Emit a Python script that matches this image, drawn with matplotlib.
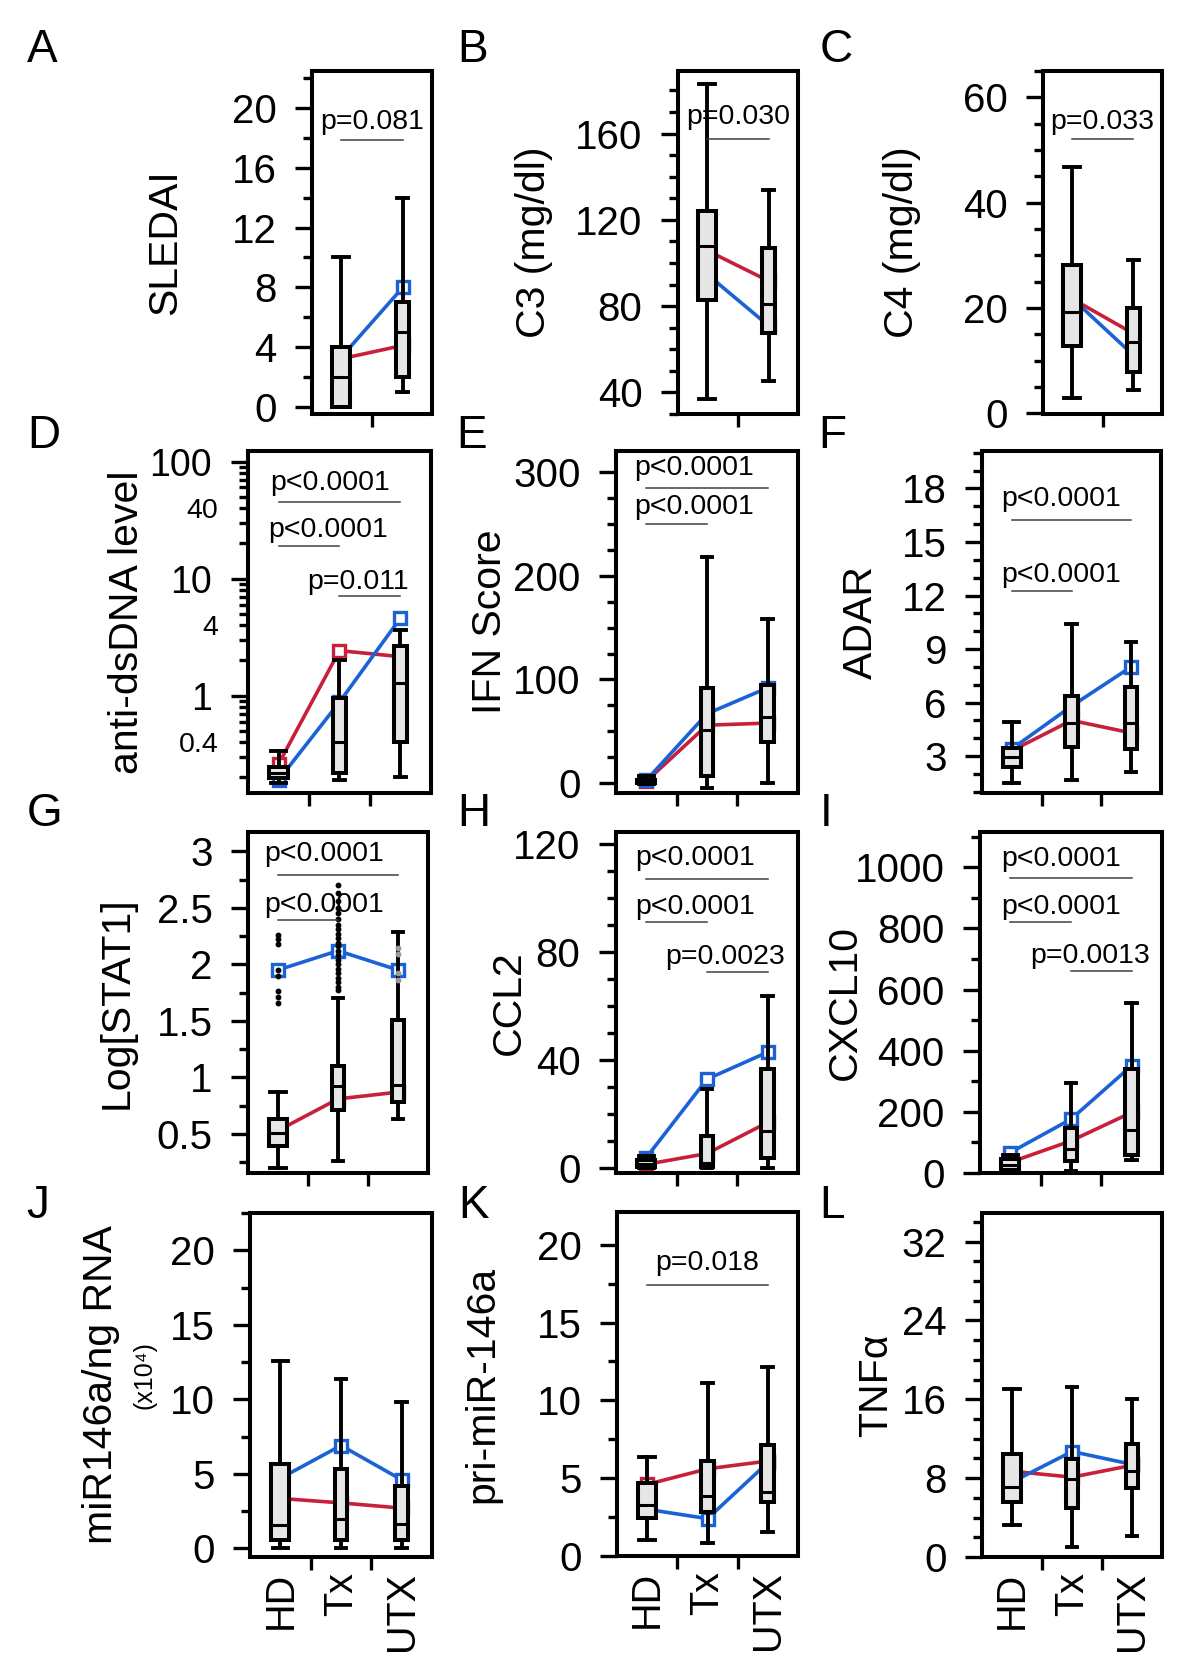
import matplotlib.pyplot as plt
from matplotlib.ticker import MultipleLocator, FixedLocator, FuncFormatter

plt.rcParams['font.family'] = ['Liberation Sans', 'DejaVu Sans']

W, H = 1200, 1670
RED, BLUE = '#c8203a', '#1a62d6'
BOX_FILL = '#e6e6e6'

# ── Data ───────────────────────────────────────────────────────────────────────
GROUPS = ['HD', 'Tx', 'UTX']

# box stats per group: whisker low, q1, median, q3, whisker high
sledai_box = [[0, 0, 2, 4, 10], [1, 2, 5, 7, 14]]
sledai_red = [3.2, 4.1]
sledai_blue = [3.3, 8.0]

c3_box = [[37, 83, 108, 124, 183], [45.5, 67.4, 81, 106.8, 134]]
c3_red = [105.8, 91.6]
c3_blue = [94.8, 70.8]

c4_box = [[3.0, 12.8, 19.2, 28.1, 46.8], [4.4, 7.9, 13.6, 20.1, 29.1]]
c4_red = [21.8, 15.2]
c4_blue = [21.9, 11.1]

dsdna_box = [[0.178, 0.197, 0.217, 0.243, 0.337],
             [0.19, 0.22, 0.40, 0.95, 2.02],
             [0.20, 0.40, 1.29, 2.66, 3.6]]
dsdna_red = [0.26, 2.42, 2.15]
dsdna_blue = [0.19, 0.88, 4.6]

ifn_box = [[-1, 0, 1, 3, 7], [-4.8, 7, 51, 92, 218], [0, 39.5, 64, 94.6, 158]]
ifn_red = [2, 56, 58]
ifn_blue = [3, 67, 92]

adar_box = [[1.5, 2.4, 2.93, 3.47, 4.89], [1.66, 3.52, 4.83, 6.38, 10.43],
            [2.09, 3.39, 4.83, 6.85, 9.37]]
adar_red = [3.3, 5.0, 4.3]
adar_blue = [3.4, 5.8, 8.0]

stat1_box = [[0.195, 0.396, 0.506, 0.63, 0.87], [0.26, 0.71, 0.92, 1.10, 1.70],
             [0.63, 0.78, 0.93, 1.51, 2.29]]
stat1_red = [0.53, 0.81, 0.87]
stat1_blue = [1.95, 2.12, 1.95]
stat1_out_hd = [2.26, 2.22, 2.18, 1.95, 1.90, 1.76, 1.71, 1.66]
stat1_out_tx = [2.70, 2.63, 2.56, 2.50, 2.45, 2.40, 2.35, 2.31, 2.27, 2.23, 2.19,
                2.16, 2.12, 2.08, 2.04, 2.00, 1.96, 1.92, 1.88, 1.84, 1.80, 1.77]
stat1_out_utx = [2.14, 2.09, 1.92, 1.86]

ccl2_box = [[0, 0.5, 1.5, 3, 4.5], [0, 0.6, 1.85, 12, 29.3], [0, 3.9, 13.9, 36.7, 63.6]]
ccl2_red = [1.5, 5.5, 17]
ccl2_blue = [4, 33, 43]

cxcl10_box = [[0, 10, 25, 45, 58], [7, 39, 80, 146, 294], [41, 58, 141, 340, 556]]
cxcl10_red = [35, 105, 198]
cxcl10_blue = [67, 176, 351]

mir_box = [[0, 0.56, 1.6, 5.65, 12.6], [0, 0.56, 1.96, 5.3, 11.35], [0, 0.56, 1.63, 4.2, 9.79]]
mir_red = [3.35, 3.05, 2.7]
mir_blue = [4.7, 6.9, 4.6]

pri_box = [[1.03, 2.47, 3.27, 4.66, 6.39], [0.86, 2.8, 3.87, 6.13, 11.1],
           [1.57, 3.44, 4.08, 7.14, 12.15]]
pri_red = [4.6, 5.6, 6.1]
pri_blue = [3.0, 2.4, 6.0]

tnf_box = [[3.26, 5.63, 7.06, 10.5, 17.0], [1.05, 5.0, 7.9, 9.9, 17.2],
           [2.14, 6.96, 8.7, 11.5, 16.0]]
tnf_red = [8.7, 8.1, 9.3]
tnf_blue = [7.6, 10.7, 9.4]

# p-value labels: (text, from group, to group)
sledai_p = [('p=0.081', 1, 2)]
c3_p = [('p=0.030', 1, 2)]
c4_p = [('p=0.033', 1, 2)]
dsdna_p = [('p<0.0001', 1, 3), ('p<0.0001', 1, 2), ('p=0.011', 2, 3)]
ifn_p = [('p<0.0001', 1, 3), ('p<0.0001', 1, 2)]
adar_p = [('p<0.0001', 1, 3), ('p<0.0001', 1, 2)]
stat1_p = [('p<0.0001', 1, 3), ('p<0.0001', 1, 2)]
ccl2_p = [('p<0.0001', 1, 3), ('p<0.0001', 1, 2), ('p=0.0023', 2, 3)]
cxcl10_p = [('p<0.0001', 1, 3), ('p<0.0001', 1, 2), ('p=0.0013', 2, 3)]
pri_p = [('p=0.018', 1, 3)]

# ── Layout (pixels of the 1200x1670 figure) ───────────────────────────────────
PANELS = [
    dict(letter='A', lpos=(42, 62), rect=(312, 71, 432, 414), ylim=(-0.5, 22.5), major=4, minor=2,
         ylabel='SLEDAI', labx=165, box=sledai_box, red=sledai_red, blue=sledai_blue,
         p=sledai_p, pbar=[17.9], ptx=[1.5], pdy=[12.7]),
    dict(letter='B', lpos=(473, 62), rect=(678, 71, 798, 414), ylim=(30, 189), major=40, minor=10,
         ylabel='C3 (mg/dl)', labx=534, box=c3_box, red=c3_red, blue=c3_blue,
         p=c3_p, pbar=[157.7], ptx=[1.5], pdy=[15.8]),
    dict(letter='C', lpos=(836, 62), rect=(1043, 71, 1162, 414), ylim=(-0.1, 65), major=20, minor=5,
         ylabel='C4 (mg/dl)', labx=902, box=c4_box, red=c4_red, blue=c4_blue,
         p=c4_p, pbar=[52], ptx=[1.5], pdy=[12.7]),
    dict(letter='D', lpos=(44, 448), rect=(248, 451, 431, 793), ylim=(0.147, 123), log=True,
         ylabel='anti-dsDNA level', labx=127, box=dsdna_box, red=dsdna_red, blue=dsdna_blue,
         p=dsdna_p, pbar=[45.5, 19.1, 7.16], ptx=[1.84, 1.81, 2.30], pdy=[13.2, 11.3, 10]),
    dict(letter='E', lpos=(472, 448), rect=(616, 451, 798, 793), ylim=(-9.3, 320), major=100, minor=25,
         ylabel='IFN Score', labx=490, box=ifn_box, red=ifn_red, blue=ifn_blue,
         p=ifn_p, pbar=[284, 249.6], ptx=[1.79, 1.79], pdy=[14.4, 12]),
    dict(letter='F', lpos=(832, 448), rect=(982, 451, 1161, 793), ylim=(0.93, 20.1), major=3, minor=1,
         ylabel='ADAR', labx=861, box=adar_box, red=adar_red, blue=adar_blue,
         p=adar_p, pbar=[16.26, 12.26], ptx=[1.82, 1.82], pdy=[15.1, 11.3]),
    dict(letter='G', lpos=(45, 826), rect=(248, 832, 428, 1173), ylim=(0.155, 3.17), major=0.5, minor=0.25,
         ylabel='Log[STAT1]', labx=117, box=stat1_box, red=stat1_red, blue=stat1_blue,
         p=stat1_p, pbar=[2.79, 2.395], ptx=[1.76, 1.76], pdy=[14.9, 10.8],
         fliers=[stat1_out_hd, stat1_out_tx, stat1_out_utx]),
    dict(letter='H', lpos=(474, 826), rect=(616, 832, 798, 1173), ylim=(-1.7, 124.4), major=40, minor=10,
         ylabel='CCL2', labx=509, box=ccl2_box, red=ccl2_red, blue=ccl2_blue,
         p=ccl2_p, pbar=[107.1, 91, 72.6], ptx=[1.8, 1.8, 2.3], pdy=[14.9, 11.1, 11.2]),
    dict(letter='I', lpos=(826, 826), rect=(980, 832, 1162, 1173), ylim=(0, 1115), major=200, minor=100,
         ylabel='CXCL10', labx=845, box=cxcl10_box, red=cxcl10_red, blue=cxcl10_blue,
         p=cxcl10_p, pbar=[966, 821, 660], ptx=[1.84, 1.84, 2.31], pdy=[13.7, 10.8, 10.8]),
    dict(letter='J', lpos=(38, 1218), rect=(250, 1213, 432, 1557), ylim=(-0.58, 22.5), major=5, minor=2.5,
         ylabel='miR146a/ng RNA', labx=101, sub='(x10⁴)', subx=144, box=mir_box, red=mir_red,
         blue=mir_blue, p=[], pbar=[], ptx=[], pdy=[], bottom=True),
    dict(letter='K', lpos=(474, 1218), rect=(617, 1212, 798, 1556), ylim=(0, 22.1), major=5, minor=2.5,
         ylabel='pri-miR-146a', labx=482, box=pri_box, red=pri_red, blue=pri_blue,
         p=pri_p, pbar=[17.4], ptx=[2.0], pdy=[15.6], bottom=True),
    dict(letter='L', lpos=(832, 1218), rect=(982, 1213, 1162, 1557), ylim=(0, 34.9), major=8, minor=2,
         ylabel='TNFα', labx=876, box=tnf_box, red=tnf_red, blue=tnf_blue,
         p=[], pbar=[], ptx=[], pdy=[], bottom=True),
]


def fx(x):
    return x / W


def fy(y):
    return 1 - y / H


def draw_panel(fig, cfg):
    l, t, r, b = cfg['rect']
    ax = fig.add_axes([fx(l), fy(b), (r - l) / W, (b - t) / H])
    n = len(cfg['box'])
    pos = list(range(1, n + 1))

    # group means (red / blue) sit behind the boxes
    for vals, col in ((cfg['red'], RED), (cfg['blue'], BLUE)):
        ax.plot(pos, vals, color=col, lw=2.6, marker='s', ms=8, mfc='white',
                mec=col, mew=2.4, zorder=1)

    stats = [dict(whislo=s[0], q1=s[1], med=s[2], q3=s[3], whishi=s[4], fliers=[])
             for s in cfg['box']]
    widths = [0.30] + [0.21] * (n - 1)
    ax.bxp(stats, positions=pos, widths=widths, capwidths=[w * 0.85 for w in widths],
           patch_artist=True, showfliers=False, manage_ticks=False, zorder=2,
           boxprops=dict(facecolor=BOX_FILL, edgecolor='black', linewidth=2.9),
           whiskerprops=dict(color='black', linewidth=2.8),
           capprops=dict(color='black', linewidth=2.8),
           medianprops=dict(color='black', linewidth=2.2))

    if 'fliers' in cfg:
        for i, pts in enumerate(cfg['fliers']):
            col = '#9a9a9a' if i == 2 else 'black'
            ax.plot([pos[i]] * len(pts), pts, 'o', color=col, ms=3.2, zorder=3)

    # p-value bars
    for (txt, g0, g1), yb, xt, dy in zip(cfg['p'], cfg['pbar'], cfg['ptx'], cfg['pdy']):
        ax.plot([g0, g1], [yb, yb], color='#404040', lw=1.1, zorder=4)
        ax.annotate(txt, xy=(xt, yb), xytext=(0, dy), textcoords='offset points',
                    ha='center', va='center', fontsize=20.5, zorder=5)

    ax.set_xlim(0.5, n + 0.5) if n == 3 else ax.set_xlim(0.53, 2.47)
    ax.set_ylim(*cfg['ylim'])

    ax.set_xticks([k + 0.5 for k in pos[:-1]])
    ax.set_xticklabels([])
    ax.tick_params(axis='x', which='major', length=9, width=2.4, direction='out')
    if cfg.get('bottom'):
        ax.set_xticks(pos, GROUPS, minor=True)
        ax.tick_params(axis='x', which='minor', length=0, pad=11, labelsize=28.5,
                       labelrotation=90)

    if cfg.get('log'):
        ax.set_yscale('log')
        ax.yaxis.set_major_locator(FixedLocator([1, 10, 100]))
        ax.yaxis.set_major_formatter(FuncFormatter(lambda v, p: f'{v:g}'))
        minors = [k * 10.0 ** e for e in (-1, 0, 1) for k in range(2, 10)]
        ax.yaxis.set_minor_locator(FixedLocator(minors))
        shown = {'0.4', '4', '40'}
        ax.yaxis.set_minor_formatter(
            FuncFormatter(lambda v, p: f'{v:.3g}' if f'{v:.3g}' in shown else ''))
        ax.tick_params(axis='y', which='major', length=12, width=2.4, pad=14, labelsize=27)
        ax.tick_params(axis='y', which='minor', length=6.5, width=2.4, pad=15, labelsize=20.5)
    else:
        ax.yaxis.set_major_locator(MultipleLocator(cfg['major']))
        ax.yaxis.set_minor_locator(MultipleLocator(cfg['minor']))
        ax.yaxis.set_major_formatter(FuncFormatter(lambda v, p: f'{v:g}'))
        ax.tick_params(axis='y', which='major', length=12, width=2.4, pad=13.5, labelsize=29)
        ax.tick_params(axis='y', which='minor', length=6.5, width=2.4)

    for sp in ax.spines.values():
        sp.set_linewidth(2.9)
        sp.set_zorder(6)

    yc = (t + b) / 2
    fig.text(fx(cfg['labx']), fy(yc), cfg['ylabel'], rotation=90, ha='center',
             va='center', fontsize=29.5)
    if 'sub' in cfg:
        fig.text(fx(cfg['subx']), fy(yc - 10), cfg['sub'], rotation=90, ha='center',
                 va='center', fontsize=18)
    lx, ly = cfg['lpos']
    fig.text(fx(lx), fy(ly), cfg['letter'], ha='center', va='baseline', fontsize=33)


fig = plt.figure(figsize=(W / 100, H / 100), dpi=100)
for cfg in PANELS:
    draw_panel(fig, cfg)

fig.savefig('out.png', dpi=100, facecolor='white')
